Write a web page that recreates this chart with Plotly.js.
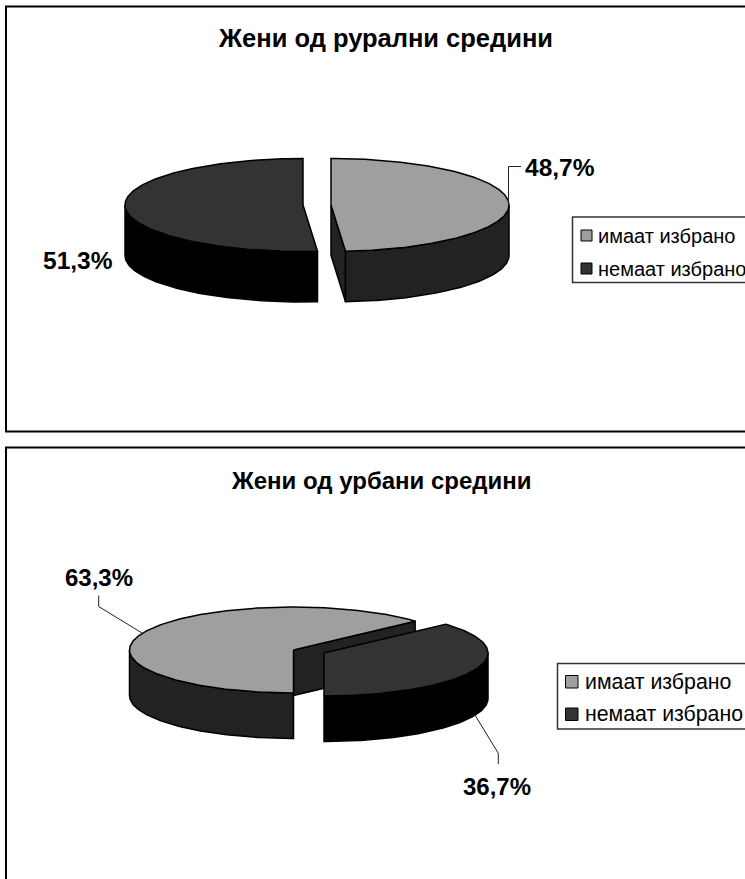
<!DOCTYPE html>
<html>
<head>
<meta charset="utf-8">
<script src="https://cdn.plot.ly/plotly-3.0.1.min.js"></script>
<style>html,body{margin:0;padding:0;background:#fff;overflow:hidden}#chart{width:745px;height:879px}</style>
</head>
<body>
<div id="chart"></div>
<script>
// Survey shares: women who have / have not chosen, by place of residence
const categories = ['имаат избрано', 'немаат избрано'];
const ruralValues = [48.7, 51.3];
const urbanValues = [63.3, 36.7];
const ruralTitle = 'Жени од рурални средини';
const urbanTitle = 'Жени од урбани средини';

const topColors = ['#9f9f9f', '#333333'];
const wallColors = ['#222222', '#000000'];
const outline = '#000000';
const FONT = 'Liberation Sans, Arial, sans-serif';

const rad = d => d * Math.PI / 180;

// Point on the tilted rim; angle runs clockwise from twelve o'clock
function rim(p, cx, cy, deg) {
  return [cx + p.rx * Math.sin(rad(deg)), cy - p.ry * Math.cos(rad(deg))];
}

function polygonTrace(points, fill) {
  return {
    type: 'scatter', mode: 'lines', hoverinfo: 'skip', showlegend: false,
    x: points.map(q => q[0]), y: points.map(q => q[1]),
    fill: 'toself', fillcolor: fill,
    line: {color: outline, width: 1.5}
  };
}

// Builds one exploded slice of a tilted pie: side faces first, then its top
function sliceTraces(p, index, from, to) {
  const cx = p.centers[index][0], cy = p.centers[index][1];
  const traces = [];

  // Cut face along the closing radius, shown when it turns towards the viewer
  if (Math.sin(rad(to)) > 0.001) {
    const e = rim(p, cx, cy, to);
    traces.push(polygonTrace([[cx, cy], e, [e[0], e[1] + p.depth], [cx, cy + p.depth], [cx, cy]], wallColors[0]));
  }

  // Outer wall: only the part of the arc on the near half of the rim
  const a = Math.max(from, 90), b = Math.min(to, 270);
  if (b > a) {
    const upper = [], lower = [];
    for (let d = a; d < b; d += 1) upper.push(rim(p, cx, cy, d));
    upper.push(rim(p, cx, cy, b));
    upper.forEach(q => lower.unshift([q[0], q[1] + p.depth]));
    traces.push(polygonTrace(upper.concat(lower, [upper[0]]), wallColors[index]));
  }

  const top = [[cx, cy]];
  for (let d = from; d < to; d += 1) top.push(rim(p, cx, cy, d));
  top.push(rim(p, cx, cy, to), [cx, cy]);
  traces.push(polygonTrace(top, topColors[index]));
  return traces;
}

function pieTraces(p) {
  let start = p.firstAngle;
  const out = [];
  p.values.forEach((v, i) => {
    const sweep = v / 100 * 360;
    const from = start % 360;
    out.push(...sliceTraces(p, i, from, from + sweep));
    start += sweep;
  });
  return out;
}

const percent = v => v.toFixed(1).replace('.', ',') + '%';

const panels = [
  {
    values: ruralValues, title: ruralTitle, titleAt: [385, 38], titleSize: 25.5, firstAngle: 0,
    centers: [[331, 205], [303, 205]], rx: 178, ry: 46.5, depth: 50.5,
    labels: [[560, 167], [78, 260]], labelSize: 24.5,
    leaders: [[[508.5, 204], [508.5, 166.5], [521, 166.5]]],
    frame: [6, 6.5, 760, 431.5],
    legend: {box: [572.5, 217, 760, 282.5], swatchX: 581, swatchY: [230, 263], swatch: 11, textX: 595.5, size: 20}
  },
  {
    values: urbanValues, title: urbanTitle, titleAt: [381, 480], titleSize: 24, firstAngle: 180,
    centers: [[293.5, 650], [324, 653]], rx: 164, ry: 43, depth: 45.5,
    labels: [[99, 577], [497, 786]], labelSize: 24,
    leaders: [[[142, 633], [98.7, 606.5], [98.7, 595.5]], [[475, 715], [498.3, 753.3], [498.3, 764]]],
    frame: [6, 447.5, 760, 900],
    legend: {box: [557.5, 663.5, 760, 729], swatchX: 565.5, swatchY: [675.5, 708], swatch: 12.5, textX: 582.5, size: 21.3}
  }
];

const traces = [];
const shapes = [];
const annotations = [];

panels.forEach(p => {
  const f = p.frame;
  shapes.push({type: 'rect', xref: 'x', yref: 'y', x0: f[0], y0: f[1], x1: f[2], y1: f[3], line: {color: '#000', width: 2}, layer: 'below'});

  traces.push(...pieTraces(p));

  p.leaders.forEach(path => traces.push({
    type: 'scatter', mode: 'lines', hoverinfo: 'skip', showlegend: false,
    x: path.map(q => q[0]), y: path.map(q => q[1]),
    line: {color: '#222', width: 1}
  }));

  annotations.push({x: p.titleAt[0], y: p.titleAt[1], xref: 'x', yref: 'y', text: '<b>' + p.title + '</b>',
    showarrow: false, xanchor: 'center', yanchor: 'middle', font: {family: FONT, size: p.titleSize, color: '#000'}});

  p.values.forEach((v, i) => annotations.push({x: p.labels[i][0], y: p.labels[i][1], xref: 'x', yref: 'y',
    text: '<b>' + percent(v) + '</b>', showarrow: false, xanchor: 'center', yanchor: 'middle',
    font: {family: FONT, size: p.labelSize, color: '#000'}}));

  const l = p.legend;
  shapes.push({type: 'rect', xref: 'x', yref: 'y', x0: l.box[0], y0: l.box[1], x1: l.box[2], y1: l.box[3],
    fillcolor: '#fff', line: {color: '#333', width: 1.5}, layer: 'below'});
  categories.forEach((c, i) => {
    shapes.push({type: 'rect', xref: 'x', yref: 'y', x0: l.swatchX, x1: l.swatchX + l.swatch,
      y0: l.swatchY[i], y1: l.swatchY[i] + l.swatch, fillcolor: topColors[i], line: {color: '#000', width: 1}});
    annotations.push({x: l.textX, y: l.swatchY[i] + l.swatch / 2, xref: 'x', yref: 'y', text: c, showarrow: false,
      xanchor: 'left', yanchor: 'middle', font: {family: FONT, size: l.size, color: '#000'}});
  });
});

const hiddenAxis = {visible: false, fixedrange: true};
Plotly.newPlot('chart', traces, {
  width: 745, height: 879,
  margin: {l: 0, r: 0, t: 0, b: 0},
  paper_bgcolor: '#fff', plot_bgcolor: '#fff',
  showlegend: false,
  xaxis: Object.assign({range: [0, 745]}, hiddenAxis),
  yaxis: Object.assign({range: [879, 0]}, hiddenAxis),
  shapes, annotations
}, {displayModeBar: false, staticPlot: true});
</script>
</body>
</html>
